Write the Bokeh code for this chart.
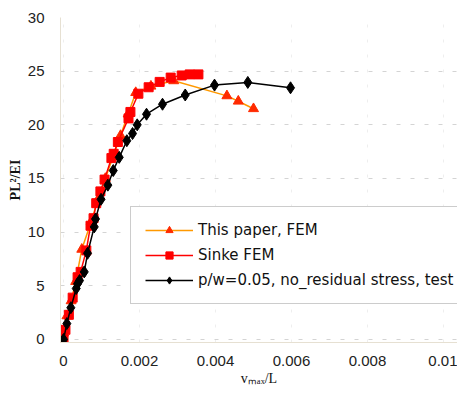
from bokeh.plotting import figure
from bokeh.models import Range1d, FixedTicker, Legend, LegendItem
from bokeh.embed import file_html
from bokeh.resources import INLINE

# Data
paper_x = [0.0, 0.00009, 0.0002, 0.00032, 0.00048, 0.00073, 0.0009, 0.0011, 0.0013, 0.0015, 0.0017, 0.0019, 0.0023, 0.0029, 0.0043, 0.0046, 0.0050]
paper_y = [0.6, 2.2, 3.6, 5.4, 8.4, 11.0, 13.0, 15.0, 17.0, 19.0, 21.0, 23.0, 23.6, 24.1, 22.7, 22.2, 21.5]

sinke_x = [0.0, 0.00005, 0.00014, 0.00024, 0.00037, 0.00045, 0.0006, 0.00071, 0.00079, 0.00086, 0.00097, 0.00108, 0.00126, 0.00132, 0.00143, 0.00171, 0.00176, 0.00197, 0.00224, 0.00253, 0.00282, 0.00311, 0.00332, 0.00355]
sinke_y = [0.0, 0.9, 2.3, 3.9, 5.8, 6.3, 8.3, 10.6, 11.3, 12.7, 13.8, 14.9, 16.9, 17.3, 18.4, 20.6, 21.2, 22.9, 23.5, 24.0, 24.4, 24.6, 24.7, 24.7]

test_x = [0.0, 0.000087, 0.000192, 0.000334, 0.000368, 0.000421, 0.000545, 0.000632, 0.000808, 0.000842, 0.000987, 0.001166, 0.001308, 0.001466, 0.001666, 0.001816, 0.001939, 0.002184, 0.002605, 0.003203, 0.003974, 0.00485, 0.005974]
test_y = [0.0, 1.48, 2.96, 4.75, 5.19, 5.49, 6.30, 8.03, 10.49, 11.23, 13.06, 14.38, 15.74, 16.97, 18.52, 19.19, 20.0, 20.99, 21.92, 22.78, 23.70, 23.95, 23.45]

x_ticks = [0, 0.002, 0.004, 0.006, 0.008, 0.01]
x_tick_labels = ["0", "0.002", "0.004", "0.006", "0.008", "0.01"]
y_ticks = [0, 5, 10, 15, 20, 25, 30]

p = figure(width=457, height=388, output_backend="svg", toolbar_location=None,
           x_range=Range1d(-0.00008, 0.010369), y_range=Range1d(-0.28, 30.0),
           min_border_left=60, min_border_right=0, min_border_top=17, min_border_bottom=45)
p.outline_line_color = None
p.background_fill_color = "white"
p.border_fill_color = "white"

p.xaxis.ticker = FixedTicker(ticks=x_ticks)
p.xaxis.major_label_overrides = {t: l for t, l in zip(x_ticks, x_tick_labels)}
p.yaxis.ticker = FixedTicker(ticks=y_ticks)

for ax in (p.xaxis[0], p.yaxis[0]):
    ax.axis_line_color = "#e6e0d2"
    ax.major_tick_line_color = None
    ax.minor_tick_line_color = None
    ax.major_label_text_font = "Liberation Sans"
    ax.major_label_text_font_size = "15px"
    ax.major_label_text_color = "#222222"
    ax.axis_label_text_font = "Liberation Serif"
    ax.axis_label_text_font_style = "normal"
    ax.axis_label_text_font_size = "14px"
    ax.axis_label_text_color = "#111111"

p.xaxis.major_label_standoff = 7
p.yaxis.major_label_standoff = 10
p.xaxis.axis_label = "vₘₐₓ/L"
p.yaxis.axis_label = "PL²/EI"
p.yaxis.axis_label_text_font_style = "bold"
p.xaxis.axis_label_standoff = 2
p.yaxis.axis_label_standoff = 2

p.ygrid.grid_line_color = "#d4d4d4"
p.ygrid.grid_line_dash = "4 10"
p.xgrid.grid_line_color = "#eeeeee"
p.xgrid.grid_line_dash = "3 12"

r1l = p.line(paper_x, paper_y, line_color="#ff9900", line_width=1.5)
r1m = p.scatter(paper_x, paper_y, marker="triangle", size=10, fill_color="#ff2a00", line_color="#ff2a00")
r2l = p.line(sinke_x, sinke_y, line_color="#ff0000", line_width=1.5)
r2m = p.scatter(sinke_x, sinke_y, marker="square", size=9, fill_color="#ff0000", line_color="#ff0000")
r3l = p.line(test_x, test_y, line_color="#000000", line_width=1.5)
r3m = p.scatter(test_x, test_y, marker="diamond", size=12, fill_color="#000000", line_color="#000000")

legend = Legend(items=[
    LegendItem(label="This paper, FEM", renderers=[r1l, r1m]),
    LegendItem(label="Sinke FEM", renderers=[r2l, r2m]),
    LegendItem(label="p/w=0.05, no_residual stress, test", renderers=[r3l, r3m]),
], location=(70, 38))
legend.label_text_font = "DejaVu Sans"
legend.label_text_font_size = "15px"
legend.label_text_color = "#111111"
legend.border_line_color = "#999999"
legend.border_line_width = 1
legend.background_fill_color = "white"
legend.background_fill_alpha = 1
legend.padding = 14
legend.spacing = 7
legend.label_height = 18
legend.glyph_height = 18
legend.glyph_width = 48
legend.label_standoff = 5
legend.margin = 0
p.add_layout(legend, "center")

open("out.html", "w").write(file_html(p, INLINE))
